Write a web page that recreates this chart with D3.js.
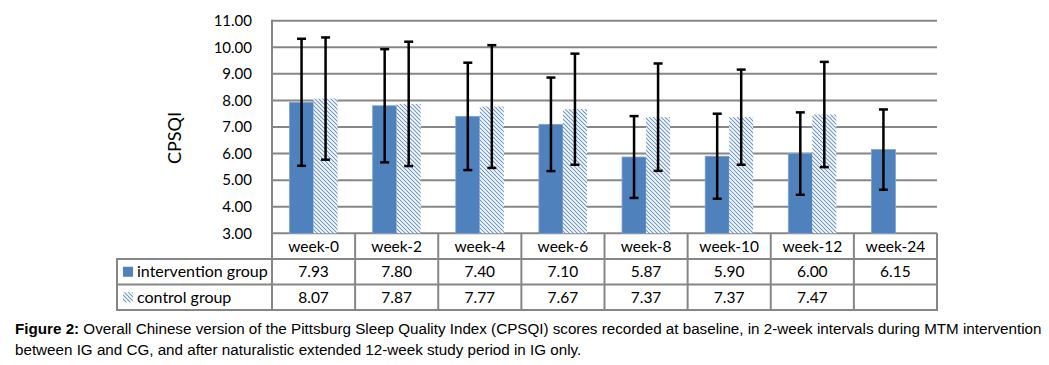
<!DOCTYPE html>
<html><head><meta charset="utf-8">
<script src="https://cdn.jsdelivr.net/npm/d3@7"></script>
<style>body{margin:0;background:#fff}svg{display:block}</style>
</head><body>
<svg id="chart" width="1049" height="365"></svg>
<script>
const weeks = ["week-0","week-2","week-4","week-6","week-8","week-10","week-12","week-24"];
const seriesNames = ["intervention group","control group"];
const interventionMeans = [7.93,7.80,7.40,7.10,5.87,5.90,6.00,6.15];
const controlMeans = [8.07,7.87,7.77,7.67,7.37,7.37,7.47,null];
const interventionSD = [2.39,2.13,2.02,1.76,1.54,1.60,1.55,1.51];
const controlSD = [2.30,2.34,2.31,2.09,2.02,1.79,1.98,null];
const yTicks = [3,4,5,6,7,8,9,10,11];
const yTitle = "CPSQI";
const captionBold = "Figure 2:";
const captionLine1 = " Overall Chinese version of the Pittsburg Sleep Quality Index (CPSQI) scores recorded at baseline, in 2-week intervals during MTM intervention";
const captionLine2 = "between IG and CG, and after naturalistic extended 12-week study period in IG only.";

const svg = d3.select("#chart");
const blue = "#4F81BD", grid = "#868686", font = "Lato, 'Open Sans', sans-serif";
const L = 272, R = 937, T = 20.7, B = 233.3;
const rowTops = [B, 259, 284.5, 310];
const tableLeft = 117;

const x = d3.scaleBand().domain(weeks).range([L, R]).padding(0);
const y = d3.scaleLinear().domain([3, 11]).range([B, T]);
const inner = d3.scaleBand().domain(seriesNames).range([0, x.bandwidth()]).paddingInner(0).paddingOuter(0.731);

const defs = svg.append("defs");
const pat = defs.append("pattern").attr("id","hatch").attr("patternUnits","userSpaceOnUse")
  .attr("width",4).attr("height",4);
pat.append("rect").attr("width",4).attr("height",4).attr("fill","#fff");
pat.append("path").attr("d","M-1,-1L5,5M3,-1L5,1M-1,3L1,5").attr("stroke","#6A95CB").attr("stroke-width",1.1);

// gridlines
svg.append("g").selectAll("line").data(yTicks).join("line")
  .attr("x1", L).attr("x2", R).attr("y1", d => y(d)).attr("y2", d => y(d))
  .attr("stroke", grid).attr("stroke-width", 2);

// y tick labels
svg.append("g").selectAll("text").data(yTicks).join("text")
  .attr("x", 252).attr("y", d => y(d)).attr("dy", "0.35em").attr("text-anchor","end")
  .attr("font-family", font).attr("font-size", 15).attr("fill","#000")
  .text(d => d.toFixed(2));

// y title
svg.append("text").attr("transform","translate(181,138) rotate(-90)")
  .attr("text-anchor","middle").attr("font-family", font).attr("font-size", 18).text(yTitle);

// bars
const barData = [];
weeks.forEach((w,i) => {
  barData.push({w, s: seriesNames[0], v: interventionMeans[i], sd: interventionSD[i]});
  if (controlMeans[i] != null) barData.push({w, s: seriesNames[1], v: controlMeans[i], sd: controlSD[i]});
});
svg.append("g").selectAll("rect").data(barData).join("rect")
  .attr("x", d => x(d.w) + inner(d.s)).attr("width", inner.bandwidth())
  .attr("y", d => y(d.v)).attr("height", d => y(3) - y(d.v))
  .attr("fill", d => d.s === seriesNames[0] ? blue : "url(#hatch)")
  .attr("stroke", d => d.s === seriesNames[0] ? "#7FA2CF" : "none").attr("stroke-width", 0.8);

// error bars
const eb = svg.append("g").attr("stroke","#000").attr("stroke-width",2.5);
barData.forEach(d => {
  const cx = x(d.w) + inner(d.s) + inner.bandwidth()/2;
  const y1 = y(d.v + d.sd), y2 = y(d.v - d.sd);
  eb.append("line").attr("x1",cx).attr("x2",cx).attr("y1",y1).attr("y2",y2);
  eb.append("line").attr("x1",cx-4.5).attr("x2",cx+4.5).attr("y1",y1).attr("y2",y1);
  eb.append("line").attr("x1",cx-4.5).attr("x2",cx+4.5).attr("y1",y2).attr("y2",y2);
});

// left axis line + table
const tg = svg.append("g").attr("stroke", grid).attr("stroke-width", 2);
tg.append("line").attr("x1",L).attr("x2",L).attr("y1",T-1).attr("y2",rowTops[3]+1);
[1,2,3].forEach(r => tg.append("line").attr("x1",tableLeft).attr("x2",R+1).attr("y1",rowTops[r]).attr("y2",rowTops[r]));
tg.append("line").attr("x1",tableLeft).attr("x2",tableLeft).attr("y1",rowTops[1]-1).attr("y2",rowTops[3]+1);
weeks.forEach(w => tg.append("line").attr("x1",x(w)+x.bandwidth()).attr("x2",x(w)+x.bandwidth()).attr("y1",B).attr("y2",rowTops[3]+1));

const rowMid = r => (rowTops[r] + rowTops[r+1]) / 2;
const cellText = svg.append("g").attr("font-family", font).attr("font-size", 15.5).attr("text-anchor","middle").attr("fill","#000");
weeks.forEach((w,i) => {
  const cx = x(w) + x.bandwidth()/2;
  cellText.append("text").attr("x",cx).attr("y",rowMid(0)).attr("dy","0.35em").text(w);
  cellText.append("text").attr("x",cx).attr("y",rowMid(1)).attr("dy","0.35em").text(interventionMeans[i].toFixed(2));
  if (controlMeans[i] != null) cellText.append("text").attr("x",cx).attr("y",rowMid(2)).attr("dy","0.35em").text(controlMeans[i].toFixed(2));
});
// row labels with legend keys
svg.append("rect").attr("x",123).attr("y",rowMid(1)-5).attr("width",10).attr("height",10).attr("fill",blue);
svg.append("rect").attr("x",123).attr("y",rowMid(2)-5).attr("width",10).attr("height",10).attr("fill","url(#hatch)");
seriesNames.forEach((s,k) => svg.append("text").attr("x",137).attr("y",rowMid(k+1)).attr("dy","0.35em")
  .attr("font-family", font).attr("font-size", 16).text(s));

// caption
const cap = svg.append("g").attr("font-family","'Liberation Sans', Arial, sans-serif").attr("font-size",15.2).attr("fill","#000");
const t1 = cap.append("text").attr("x",15).attr("y",334);
t1.append("tspan").attr("font-weight","bold").text(captionBold);
t1.append("tspan").text(captionLine1);
cap.append("text").attr("x",15).attr("y",355).text(captionLine2);
</script>
</body></html>
